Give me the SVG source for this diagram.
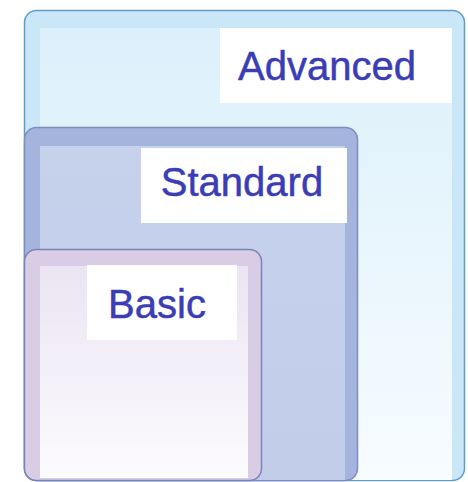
<svg xmlns="http://www.w3.org/2000/svg" width="468" height="482" viewBox="0 0 468 482">
<style>
.lbl{font-family:"Liberation Sans",Arial,sans-serif;font-size:40px;fill:#3b3db4;stroke:#3b3db4;stroke-width:0.5;text-anchor:middle}
.tag{fill:#ffffff}
</style>
<defs>
<linearGradient id="gAdv" x1="0" y1="0" x2="0" y2="1"><stop offset="0" stop-color="#dcf0fb"/><stop offset="1" stop-color="#f7fcff"/></linearGradient>
<linearGradient id="gStd" x1="0" y1="0" x2="0" y2="1"><stop offset="0" stop-color="#c6d1ec"/><stop offset="1" stop-color="#c2cdea"/></linearGradient>
<linearGradient id="gBas" x1="0" y1="0" x2="0" y2="1"><stop offset="0" stop-color="#ebe4f2"/><stop offset="1" stop-color="#fcfbfe"/></linearGradient>
</defs>
<rect width="468" height="482" fill="#ffffff"/>
<g id="advanced">
<rect x="24.5" y="10.5" width="440" height="470" rx="12" fill="#c9e7f7" stroke="#5f9cc8" stroke-width="1.5"/>
<rect x="40" y="28" width="412" height="452" fill="url(#gAdv)"/>
<rect class="tag" x="220" y="28" width="232" height="75"/>
<text class="lbl" x="327" y="80">Advanced</text>
</g>
<g id="standard">
<rect x="24.5" y="127.5" width="333" height="353" rx="12" fill="#a5b4dc" stroke="#7d8cc2" stroke-width="1.5"/>
<rect x="40" y="146" width="305" height="334" fill="url(#gStd)"/>
<rect class="tag" x="141" y="148" width="206" height="75"/>
<text class="lbl" x="242" y="196">Standard</text>
</g>
<g id="basic">
<rect x="24.5" y="249.5" width="237" height="231" rx="12" fill="#d9cde5" stroke="#7b82b8" stroke-width="1.5"/>
<rect x="40" y="266" width="208" height="212" fill="url(#gBas)"/>
<rect class="tag" x="87" y="265" width="150" height="75"/>
<text class="lbl" x="157" y="318">Basic</text>
</g>
<g id="connectors"/>
</svg>
